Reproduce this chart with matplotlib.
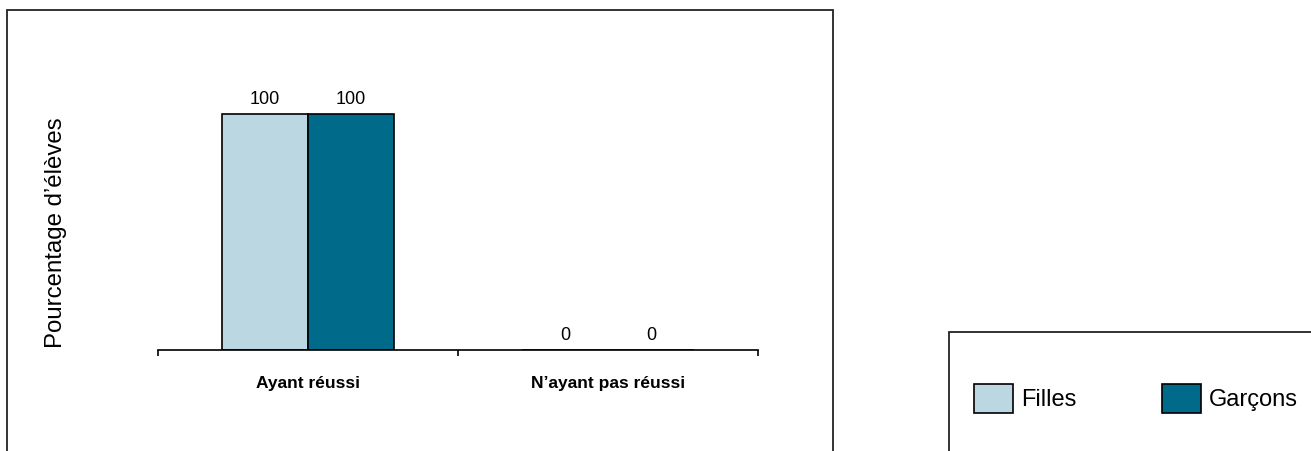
import numpy as np
import matplotlib
matplotlib.use("Agg")
import matplotlib.pyplot as plt
from matplotlib.patches import Rectangle

plt.rcParams["font.family"] = ["Liberation Sans", "DejaVu Sans"]

categories = ["Ayant réussi", "N\u2019ayant pas réussi"]
series_names = ["Filles", "Garçons"]
filles = [100, 0]
garcons = [100, 0]
colors = ["#BAD7E2", "#006A8A"]

W, H = 1311, 451
fig = plt.figure(figsize=(W / 100, H / 100), dpi=100)

# outer frames (chart area and legend area), both cut by the image edge
fig.add_artist(Rectangle((7 / W, -0.05), (833 - 7) / W, 1.05 - 10 / H,
                         transform=fig.transFigure, fill=False, lw=1.3,
                         edgecolor="#222222", clip_on=False))
fig.add_artist(Rectangle((949 / W, -0.05), 0.5, 0.05 + (H - 332) / H,
                         transform=fig.transFigure, fill=False, lw=1.3,
                         edgecolor="#222222", clip_on=False))

ax = fig.add_axes([158 / W, (H - 350) / H, 600 / W, 320 / H])
x = np.arange(len(categories))
bw = 0.287
b1 = ax.bar(x - bw / 2, filles, bw, color=colors[0], edgecolor="black",
            linewidth=1.2, label=series_names[0])
b2 = ax.bar(x + bw / 2, garcons, bw, color=colors[1], edgecolor="black",
            linewidth=1.2, label=series_names[1])
for bars in (b1, b2):
    ax.bar_label(bars, labels=[str(v) for v in bars.datavalues], padding=4,
                 fontsize=13)

ax.set_xlim(-0.5, 1.5)
ax.set_ylim(0, 135.6)
for s in ["top", "right", "left"]:
    ax.spines[s].set_visible(False)
ax.spines["bottom"].set_linewidth(1.2)
ax.set_yticks([])
ax.set_xticks([-0.5, 0.5, 1.5])
ax.set_xticklabels([])
ax.tick_params(axis="x", which="major", direction="out", length=4, width=1.2)
ax.set_xticks(x, minor=True)
ax.set_xticklabels(categories, minor=True, fontsize=12.5, fontweight="bold")
ax.tick_params(axis="x", which="minor", length=0, pad=19)

ax.set_ylabel("Pourcentage d\u2019élèves", fontsize=17.3)
ax.yaxis.set_label_coords(-0.152, 0.366)

fig.legend(handles=[b1, b2], loc="center left",
           bbox_to_anchor=(974 / W, (H - 398.5) / H), ncol=2, frameon=False,
           fontsize=17, handlelength=1.65, handleheight=1.55,
           handletextpad=0.35, columnspacing=3.6, borderpad=0,
           borderaxespad=0)

fig.savefig("out.png", dpi=100)
